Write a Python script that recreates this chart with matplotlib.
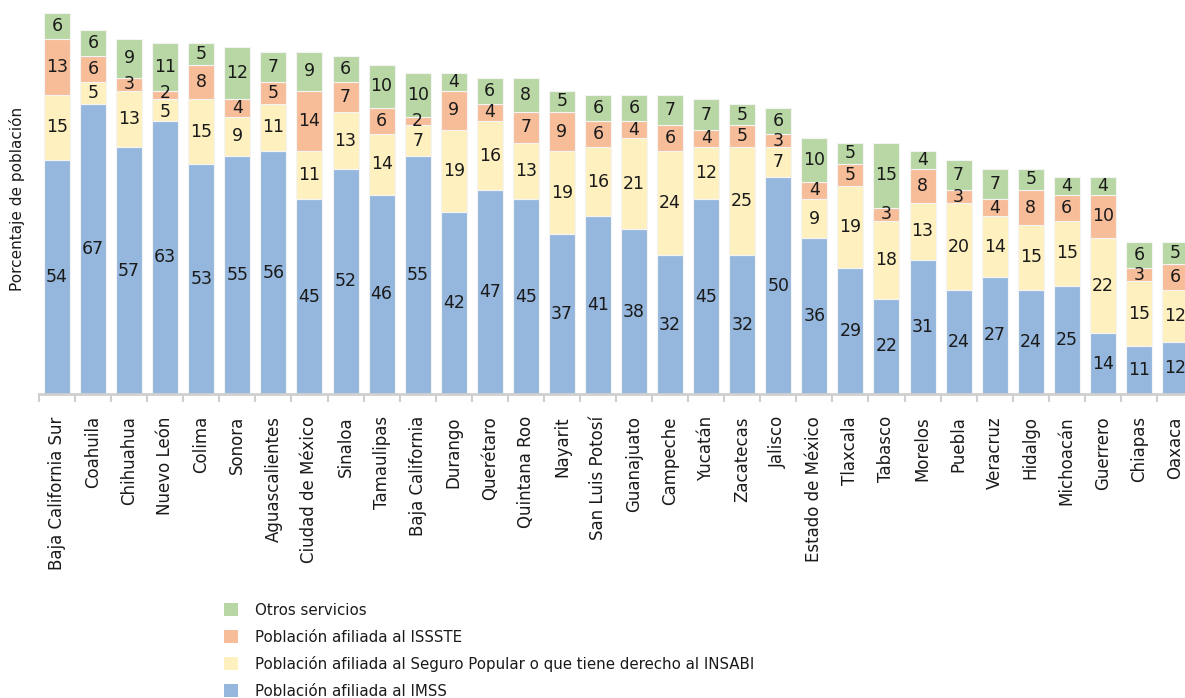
import matplotlib
matplotlib.use("Agg")
import matplotlib.pyplot as plt
from matplotlib.patches import Patch
import numpy as np

plt.rcParams['font.family'] = ['DejaVu Sans']

states = ["Baja California Sur", "Coahuila", "Chihuahua", "Nuevo León", "Colima", "Sonora",
          "Aguascalientes", "Ciudad de México", "Sinaloa", "Tamaulipas", "Baja California",
          "Durango", "Querétaro", "Quintana Roo", "Nayarit", "San Luis Potosí", "Guanajuato",
          "Campeche", "Yucatán", "Zacatecas", "Jalisco", "Estado de México", "Tlaxcala",
          "Tabasco", "Morelos", "Puebla", "Veracruz", "Hidalgo", "Michoacán", "Guerrero",
          "Chiapas", "Oaxaca"]
imss = [54, 67, 57, 63, 53, 55, 56, 45, 52, 46, 55, 42, 47, 45, 37, 41, 38, 32, 45, 32, 50,
        36, 29, 22, 31, 24, 27, 24, 25, 14, 11, 12]
seguro = [15, 5, 13, 5, 15, 9, 11, 11, 13, 14, 7, 19, 16, 13, 19, 16, 21, 24, 12, 25, 7,
          9, 19, 18, 13, 20, 14, 15, 15, 22, 15, 12]
issste = [13, 6, 3, 2, 8, 4, 5, 14, 7, 6, 2, 9, 4, 7, 9, 6, 4, 6, 4, 5, 3,
          4, 5, 3, 8, 3, 4, 8, 6, 10, 3, 6]
otros = [6, 6, 9, 11, 5, 12, 7, 9, 6, 10, 10, 4, 6, 8, 5, 6, 6, 7, 7, 5, 6,
         10, 5, 15, 4, 7, 7, 5, 4, 4, 6, 5]

series_names = ["Población afiliada al IMSS",
                "Población afiliada al Seguro Popular o que tiene derecho al INSABI",
                "Población afiliada al ISSSTE",
                "Otros servicios"]
colors = ["#95b7dd", "#fff0bf", "#f7bc98", "#b8d7a4"]

W, H = 1185, 698
fig = plt.figure(figsize=(W / 100, H / 100), dpi=100)
ax = fig.add_axes([39 / W, (H - 394) / H, (1193 - 39) / W, 390 / H])

x = np.arange(len(states))
series = [np.array(s, dtype=float) for s in (imss, seguro, issste, otros)]
bottoms = np.vstack([np.zeros(len(states))] + list(np.cumsum(series, axis=0)[:-1]))

for vals, bot, col in zip(series, bottoms, colors):
    ax.bar(x, vals, width=0.72, bottom=bot, color=col, edgecolor="#f4f4f4",
           linewidth=0.8, zorder=2)

# label positions: segment centres, nudged apart where segments are very thin
min_gap = 4.5
for i in x:
    pos = [bottoms[k][i] + series[k][i] / 2 for k in range(4)]
    for _ in range(5):
        for k in range(1, 4):
            gap = pos[k] - pos[k - 1]
            if gap < min_gap:
                d = (min_gap - gap) / 2
                pos[k] += d
                pos[k - 1] -= d
    for k in range(4):
        ax.text(i, pos[k], f"{int(series[k][i])}", ha="center", va="center",
                fontsize=12.5, color="#1a1a1a", zorder=3)

ax.set_xlim(-0.5, len(states) - 0.5)
ax.set_ylim(0, 90)
for s in ["top", "right", "left"]:
    ax.spines[s].set_visible(False)
ax.spines["bottom"].set_color("#cfcfcf")
ax.spines["bottom"].set_linewidth(2)
ax.set_yticks([])
ax.set_xticks(x)
ax.set_xticklabels(states, rotation=90, fontsize=12, color="#1a1a1a")
ax.tick_params(axis="x", which="major", length=0, pad=16)
ax.set_xticks(np.arange(-0.5, len(states) + 0.5, 1), minor=True)
ax.tick_params(axis="x", which="minor", length=6, width=1.5, color="#cfcfcf")
ax.set_ylabel("Porcentaje de población", fontsize=11, color="#1a1a1a", labelpad=10)

handles = [Patch(facecolor=c, edgecolor="none") for c in colors[::-1]]
fig.legend(handles, series_names[::-1], loc="upper left",
           bbox_to_anchor=(224 / W, 1 - 603 / H), frameon=False, fontsize=10.8,
           handlelength=0.95, handleheight=0.95, labelspacing=0.77, handletextpad=1.1,
           borderpad=0, borderaxespad=0, labelcolor="#1a1a1a")

fig.savefig("out.png", dpi=100)
